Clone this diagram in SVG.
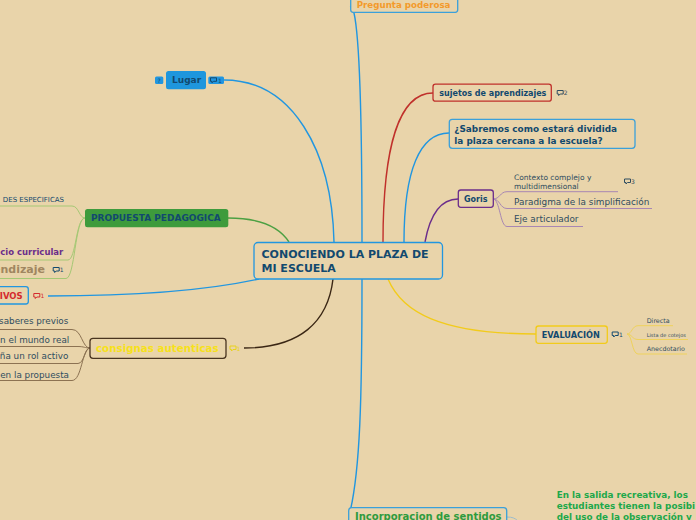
<svg xmlns="http://www.w3.org/2000/svg" xmlns:xlink="http://www.w3.org/1999/xlink" width="696" height="520" viewBox="0 0 696 520">
<style>
text{font-family:"DejaVu Sans","Verdana",sans-serif}
.b{font-weight:bold}
.dk{fill:#12496E}
.sl{fill:#2F4D60}
.box{fill:#E9D4AA;stroke-width:1.3}
.con{fill:none;stroke-width:1.4}
.br{fill:none;stroke-width:1}
.num{font-size:6px}
</style>
<defs>
<path id="ci" d="M0.5 0.5 h6 v3.5 h-3 l-1.5 1.5 v-1.5 h-1.5 z" fill="none" stroke-width="1"/>
</defs>
<rect width="696" height="520" fill="#E9D4AA"/>

<g id="connectors">
<path class="con" stroke="#2196E0" d="M224 80 C292 80 332 150 334 242"/>
<path class="con" stroke="#2196E0" d="M362 242 C362 120 359 35 354 13 C352 10 351 8 350.5 6"/>
<path class="con" stroke="#C0302B" d="M383 242 C383 150 398 93 433 93"/>
<path class="con" stroke="#2196E0" d="M404 242 C404 170 420 133 449 133"/>
<path class="con" stroke="#6B2D8B" d="M425 242 C430 215 440 199 458 199"/>
<path class="con" stroke="#F2CB1B" d="M388 279 C402 312 440 334 536 334"/>
<path class="con" stroke="#3A2614" d="M333 279 C328 322 300 348 244 348"/>
<path class="con" stroke="#2196E0" d="M362 279 C362 400 360 470 350 512"/>
<path class="con" stroke="#4CA043" d="M228 218 C262 218 280 228 289 242"/>
<path class="con" stroke="#2196E0" d="M48 296 C130 296 200 292 259 279"/>
<path class="br" stroke="#9DBCCB" d="M507 517 C512 517 515 518 518 521"/>
<path class="br" stroke="#A5C874" d="M0 206 H72 C79 206 79 218 85 218"/>
<path class="br" stroke="#A5C874" d="M0 260 H68 C76 260 76 218 85 218"/>
<path class="br" stroke="#A5C874" d="M0 278.5 H66 C75 278.5 75 218 85 218"/>
<path class="br" stroke="#8C7252" d="M0 329.5 H72 C82 329.5 82 348 90 348"/>
<path class="br" stroke="#8C7252" d="M0 346.5 H78 C84 346.5 85 348 90 348"/>
<path class="br" stroke="#8C7252" d="M0 363.5 H78 C84 363.5 85 348 90 348"/>
<path class="br" stroke="#8C7252" d="M0 380.5 H72 C82 380.5 82 348 90 348"/>
<path class="br" stroke="#A887B3" d="M493 199 C500 199 500 191.7 507 191.7 H618"/>
<path class="br" stroke="#A887B3" d="M493 199 C500 199 500 208.5 507 208.5 H652"/>
<path class="br" stroke="#A887B3" d="M493 199 C500 199 500 226.5 507 226.5 H583"/>
<path class="br" stroke="#EFD25C" d="M627 334 C632 334 632 325.7 638 325.7 H673"/>
<path class="br" stroke="#EFD25C" d="M627 334 C632 334 632 339.5 638 339.5 H688"/>
<path class="br" stroke="#EFD25C" d="M627 334 C632 334 632 354 638 354 H687"/>
</g>

<g id="center">
<rect class="box" x="254" y="242.5" width="188.5" height="36.5" rx="4" stroke="#2196E0" stroke-width="1.5"/>
<text class="b dk" x="261.5" y="258.3" font-size="11">CONOCIENDO LA PLAZA DE</text>
<text class="b dk" x="261.5" y="272.3" font-size="11">MI ESCUELA</text>
</g>

<g id="lugar">
<rect x="155" y="76.5" width="8.3" height="7.5" rx="1.5" fill="#2196E0"/>
<text x="159.2" y="82.8" font-size="6" text-anchor="middle" class="dk">?</text>
<rect x="166" y="71" width="40" height="18.3" rx="2.5" fill="#1E96DD"/>
<text class="b dk" x="172" y="83.3" font-size="9">Lugar</text>
<rect x="208.3" y="76.5" width="15.7" height="7.5" rx="1.5" fill="#2196E0"/>
<use href="#ci" x="210" y="77.3" stroke="#12496E"/>
<text class="dk num" x="218" y="82.8">1</text>
</g>

<g id="pregunta">
<rect class="box" x="350.7" y="-6" width="107" height="18.3" rx="2.5" stroke="#3BA0DA"/>
<text class="b" x="356.7" y="8.3" font-size="8.7" fill="#F39A2B">Pregunta poderosa</text>
</g>

<g id="sujetos">
<rect class="box" x="433" y="84.2" width="118.3" height="17" rx="2.5" stroke="#C0302B"/>
<text class="b dk" x="439.3" y="96" font-size="8">sujetos de aprendizajes</text>
<use href="#ci" x="556.7" y="90" stroke="#2F4D60"/>
<text class="sl num" x="563.8" y="95.2">2</text>
</g>

<g id="sabremos">
<rect class="box" x="449.3" y="119.3" width="185.7" height="29" rx="3" stroke="#3BA0DA"/>
<text class="b dk" x="454.3" y="132.3" font-size="8.9">¿Sabremos como estará dividida</text>
<text class="b dk" x="454.3" y="144" font-size="8.9">la plaza cercana a la escuela?</text>
</g>

<g id="goris">
<rect class="box" x="458.3" y="190" width="35" height="17.3" rx="2.5" stroke="#6B2D8B"/>
<text class="b dk" x="464" y="201.7" font-size="8">Goris</text>
</g>
<g id="contexto">
<text class="sl" x="514" y="180" font-size="7.5">Contexto complejo y</text>
<text class="sl" x="514" y="188.5" font-size="7.5">multidimensional</text>
<use href="#ci" x="624" y="178.5" stroke="#2F4D60"/>
<text class="sl num" x="631" y="183.7">3</text>
</g>
<g id="paradigma">
<text class="sl" x="514" y="204.5" font-size="8.9">Paradigma de la simplificación</text>
</g>
<g id="eje">
<text class="sl" x="514" y="222" font-size="8.9">Eje articulador</text>
</g>

<g id="evaluacion">
<rect class="box" x="536" y="326" width="71.3" height="17.3" rx="2.5" stroke="#F2CB1B"/>
<text class="b dk" x="541.7" y="337.7" font-size="8.2">EVALUACIÓN</text>
<use href="#ci" x="611.7" y="331.5" stroke="#12496E"/>
<text class="dk num" x="619" y="336.8">1</text>
</g>
<g id="directa"><text class="sl" x="646.7" y="322.7" font-size="6.4">Directa</text></g>
<g id="lista"><text class="sl" x="646.7" y="336.7" font-size="5">Lista de cotejos</text></g>
<g id="anecdotario"><text class="sl" x="646.7" y="350.7" font-size="6.35">Anecdotario</text></g>

<g id="consignas">
<rect class="box" x="90" y="338.3" width="136" height="20" rx="3" stroke="#4A3520"/>
<text class="b" x="96" y="351.7" font-size="10.3" fill="#F7E11B">consignas autenticas</text>
<use href="#ci" x="229.5" y="345.5" stroke="#E8D21A"/>
<text class="num" x="236.5" y="350.8" fill="#E8D21A">1</text>
</g>
<g id="saberes"><text class="sl" x="68.3" y="324.3" font-size="8.8" text-anchor="end">saberes previos</text></g>
<g id="mundo"><text class="sl" x="69.3" y="342.7" font-size="8.8" text-anchor="end">n el mundo real</text></g>
<g id="rol"><text class="sl" x="68.3" y="359.3" font-size="8.8" text-anchor="end">ña un rol activo</text></g>
<g id="propuesta-c"><text class="sl" x="69" y="377.7" font-size="8.8" text-anchor="end">en la propuesta</text></g>

<g id="objetivos">
<rect class="box" x="-20" y="286.7" width="48.3" height="17.3" rx="2.5" stroke="#2196E0"/>
<text class="b" x="22.7" y="299" font-size="8.5" fill="#D42A2E" text-anchor="end">TIVOS</text>
<use href="#ci" x="33.3" y="293" stroke="#D42A2E"/>
<text class="num" x="40.5" y="298.3" fill="#D42A2E">1</text>
</g>

<g id="propuesta">
<rect x="85" y="209" width="143.3" height="18.3" rx="2.5" fill="#3E9B3C"/>
<text class="b dk" x="91" y="220.7" font-size="9">PROPUESTA PEDAGOGICA</text>
</g>
<g id="especificas"><text class="dk" x="64" y="202.3" font-size="7" text-anchor="end">DES ESPECIFICAS</text></g>
<g id="curricular"><text class="b" x="63.3" y="255" font-size="8.5" fill="#6B2D8B" text-anchor="end">cio curricular</text></g>
<g id="aprendizaje">
<text class="b" x="45" y="272.7" font-size="11" fill="#A08660" text-anchor="end">endizaje</text>
<use href="#ci" x="52.7" y="267" stroke="#12496E"/>
<text class="dk num" x="59.8" y="272.3">1</text>
</g>

<g id="incorporacion">
<rect class="box" x="348.7" y="507.7" width="158" height="20" rx="3" stroke="#3BA0DA"/>
<text class="b" x="355" y="520" font-size="10" fill="#2E9B3E">Incorporacion de sentidos</text>
</g>
<g id="salida">
<text class="b" x="556.7" y="498.3" font-size="8.8" fill="#1DA84A">En la salida recreativa, los</text>
<text class="b" x="556.7" y="509.3" font-size="8.8" fill="#1DA84A">estudiantes tienen la posibi</text>
<text class="b" x="556.7" y="520.3" font-size="8.8" fill="#1DA84A">del uso de la observación y</text>
</g>
</svg>
